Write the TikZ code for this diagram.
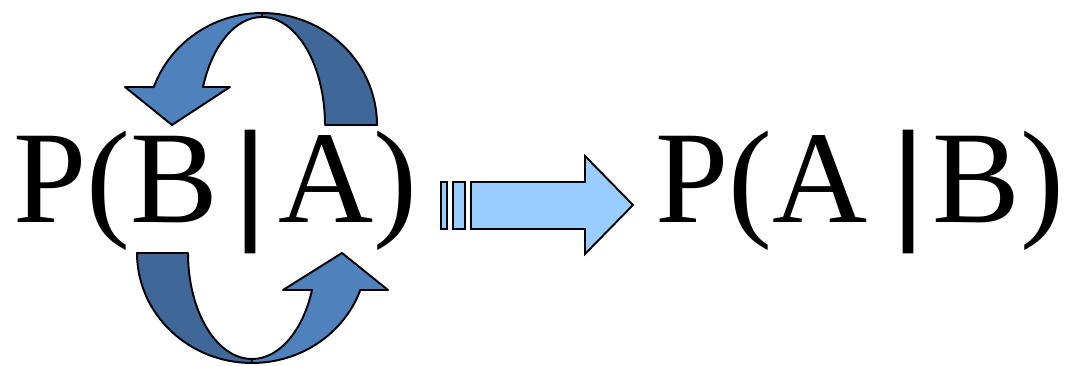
\documentclass[tikz,border=0pt]{standalone}
\usepackage{fontspec}
\setmainfont{Liberation Serif}
\newfontfamily\barfont[FakeBold=3]{Liberation Serif}
\usepackage{tikz}
\definecolor{BandLight}{HTML}{4F81BD}
\definecolor{BandDark}{HTML}{3F6898}
\definecolor{ArrowFill}{HTML}{99CCFF}

\begin{document}
\begin{tikzpicture}[
  x=0.02cm, y=0.02cm,
  every node/.style={inner sep=0pt, font=\fontsize{75}{78}\selectfont},
  band/.style={draw=black, line width=1.1pt, line join=round},
  frontband/.style={band, fill=BandLight},
  backband/.style={band, fill=BandDark},
  blockarrow/.style={draw=black, line width=1.1pt, fill=ArrowFill},
]
  \useasboundingbox (0,0) rectangle (1070,365);

  % left formula
  \node[anchor=base west] (pb) at (13,142) {P(B};
  \node[anchor=base] (givenL) at (250,142) {\barfont|};
  \node[anchor=base east] (ar) at (418,142) {A)};

  % right formula
  \node[anchor=base west] (pa) at (655,142) {P(A};
  \node[anchor=base] (givenR) at (908,142) {\barfont|};
  \node[anchor=base east] (br) at (1065,142) {B)};

  % upper curved arrow
  \draw[backband] (377,240) arc[start angle=0, end angle=90, x radius=115, y radius=112]
     -- (262,348) arc[start angle=90, end angle=0, x radius=63, y radius=108] -- cycle;
  \draw[frontband] (262,352) arc[start angle=90, end angle=160.2, x radius=115, y radius=112]
     -- (125,278) -- (172,240) -- (230,278) -- (203,278)
     arc[start angle=159.4, end angle=90, x radius=63, y radius=108] -- cycle;

  % lower curved arrow
  \draw[backband] (137,112) arc[start angle=180, end angle=270, x radius=115, y radius=110]
     -- (252,6) arc[start angle=270, end angle=180, x radius=64, y radius=106] -- cycle;
  \draw[frontband] (252,2) arc[start angle=270, end angle=340.35, x radius=115, y radius=110]
     -- (388,75) -- (342,112) -- (283,75) -- (312,75)
     arc[start angle=339.57, end angle=270, x radius=64, y radius=106] -- cycle;

  % striped block arrow
  \draw[blockarrow] (441,136) rectangle (447,183);
  \draw[blockarrow] (453,136) rectangle (465,183);
  \draw[blockarrow] (471,136) -- (471,183) -- (585,183) -- (585,209)
     -- (633,160) -- (585,111) -- (585,136) -- cycle;
\end{tikzpicture}
\end{document}
